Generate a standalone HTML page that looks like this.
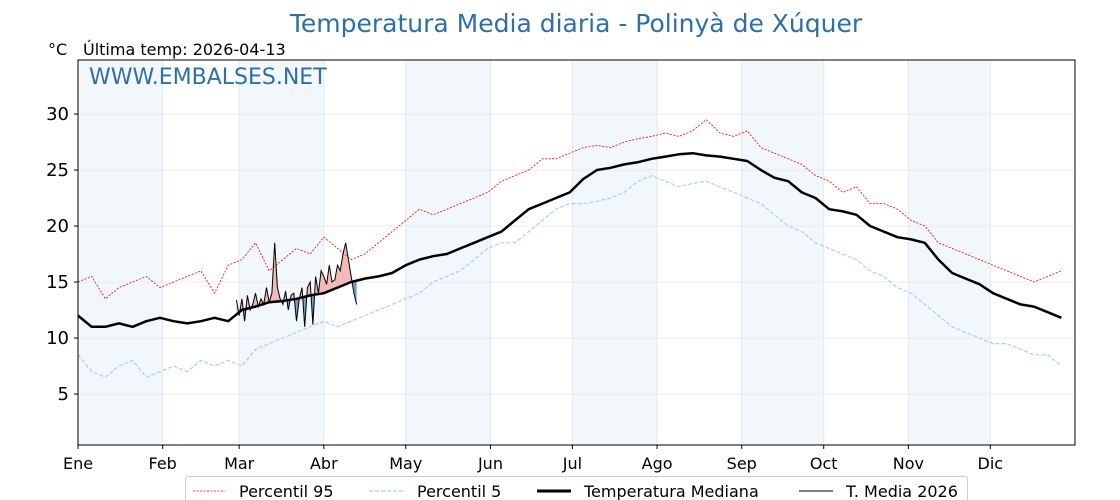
<!DOCTYPE html>
<html><head><meta charset="utf-8">
<style>
html,body{margin:0;padding:0;background:#fff;}
svg{display:block;font-family:"DejaVu Sans","Liberation Sans",sans-serif;}
</style></head>
<body>
<svg id="chart" width="1120" height="500" viewBox="0 0 1120 500">
  <text x="576" y="32" text-anchor="middle" font-size="25" fill="#2e6fa5">Temperatura Media diaria - Polinyà de Xúquer</text>
  <text x="48" y="55" font-size="16" fill="#000">°C</text>
  <text x="83" y="55" font-size="16" fill="#000">Última temp: 2026-04-13</text>
  <g id="bands"></g>
  <g id="grid"></g>
  <g id="fills"></g>
  <g id="lines"></g>
  <rect x="78" y="60" width="997" height="385" fill="none" stroke="#000" stroke-width="1"/>
  <text x="89" y="84" font-size="22" fill="#2e6fa5">WWW.EMBALSES.NET</text>
  <g id="axes"></g>
  <g>
    <rect x="185.5" y="476.5" width="782" height="30" rx="3" fill="#fff" stroke="#ccc"/>
    <line x1="193" y1="491" x2="225" y2="491" stroke="red" stroke-width="0.8" stroke-dasharray="2,1.5"/>
    <text x="239" y="497" font-size="16">Percentil 95</text>
    <line x1="369" y1="491" x2="403" y2="491" stroke="#a8d4e0" stroke-width="1.2" stroke-dasharray="4,2"/>
    <text x="417" y="497" font-size="16">Percentil 5</text>
    <line x1="537" y1="491" x2="571" y2="491" stroke="#000" stroke-width="3"/>
    <text x="584" y="497" font-size="16">Temperatura Mediana</text>
    <line x1="799" y1="491" x2="833" y2="491" stroke="#000" stroke-width="1"/>
    <text x="846" y="497" font-size="16">T. Media 2026</text>
  </g>
</svg>
<script>
const months = ["Ene","Feb","Mar","Abr","May","Jun","Jul","Ago","Sep","Oct","Nov","Dic"];
const monthStartDays = [0,31,59,90,120,151,181,212,243,273,304,334];
const yTicks = [5,10,15,20,25,30];
const stepDays = 5;
const median = [12,11,11,11.3,11,11.5,11.8,11.5,11.3,11.5,11.8,11.5,12.5,12.8,13.2,13.3,13.5,13.8,14,14.5,15,15.3,15.5,15.8,16.5,17,17.3,17.5,18,18.5,19,19.5,20.5,21.5,22,22.5,23,24.2,25,25.2,25.5,25.7,26,26.2,26.4,26.5,26.3,26.2,26,25.8,25,24.3,24,23,22.5,21.5,21.3,21,20,19.5,19,18.8,18.5,17,15.8,15.3,14.8,14,13.5,13,12.8,12.3,11.8];
const p95 = [15,15.5,13.5,14.5,15,15.5,14.5,15,15.5,16,14,16.5,17,18.5,16,17,18,17.5,19,18,17,17.5,18.5,19.5,20.5,21.5,21,21.5,22,22.5,23,24,24.5,25,26,26,26.5,27,27.2,27,27.5,27.8,28,28.3,28,28.5,29.5,28.3,28,28.5,27,26.5,26,25.5,24.5,24,23,23.5,22,22,21.5,20.5,20,18.5,18,17.5,17,16.5,16,15.5,15,15.5,16];
const p5 = [8.5,7,6.5,7.5,8,6.5,7,7.5,7,8,7.5,8,7.5,9,9.5,10,10.5,11,11.5,11,11.5,12,12.5,13,13.5,14,15,15.5,16,17,18,18.5,18.5,19.5,20.5,21.5,22,22,22.2,22.5,23,24,24.5,24,23.5,23.8,24,23.5,23,22.5,22,21,20,19.5,18.5,18,17.5,17,16,15.5,14.5,14,13,12,11,10.5,10,9.5,9.5,9,8.5,8.5,7.5];
const startDay2026 = 58;
const temp2026 = [13.4,12.0,13.5,11.5,13.8,12.5,13.0,14.0,12.8,13.5,13.0,14.5,13.2,14.0,18.5,14.5,13.5,13.0,14.2,12.5,13.8,14.0,11.5,13.5,14.5,11.0,14.5,15.0,11.2,15.5,14.0,16.0,15.5,14.8,16.5,15.0,15.2,16.5,16.0,17.5,18.5,17.0,15.5,14.0,13.0];

const NS="http://www.w3.org/2000/svg";
const X0=78,X1=1075,Y0=60,Y1=445;
const x=d=>X0+d*(X1-X0)/365;
const y=v=>450-v*11.2;
function mk(tag,attrs,parent){const e=document.createElementNS(NS,tag);for(const k in attrs)e.setAttribute(k,attrs[k]);parent.appendChild(e);return e;}
const bands=document.getElementById('bands'),grid=document.getElementById('grid'),fills=document.getElementById('fills'),lines=document.getElementById('lines'),axes=document.getElementById('axes');
monthStartDays.forEach((d,i)=>{
  const end=i<11?monthStartDays[i+1]:365;
  if(i%2===0){const r=mk('rect',{x:x(d),y:Y0,width:x(end)-x(d),height:Y1-Y0,fill:'#f2f7fb'},bands);
    
    }
  const g=mk('line',{x1:x(d),x2:x(d),y1:Y0,y2:Y1,stroke:'#e3e8ee','stroke-width':1},grid);
  
  
  const t=mk('text',{x:x(d),y:469,'font-size':16,'text-anchor':'middle'},axes);
  t.textContent=months[i];
  
  
  const tk=mk('line',{x1:x(d),x2:x(d),y1:Y1,y2:Y1+4,stroke:'#000'},axes);
  
  
});
yTicks.forEach(v=>{
  const g=mk('line',{x1:X0,x2:X1,y1:y(v),y2:y(v),stroke:'#ebebeb','stroke-width':1},grid);
  
  
  const t=mk('text',{x:69,y:y(v)+6,'font-size':18,'text-anchor':'end'},axes);
  t.textContent=v;
  
  
  const tk=mk('line',{x1:X0-4,x2:X0,y1:y(v),y2:y(v),stroke:'#000'},axes);
  
  
});
function medAt(d){const i=Math.min(Math.floor(d/stepDays),median.length-2);const f=(d-i*stepDays)/stepDays;return median[i]+(median[i+1]-median[i])*f;}
for(let i=0;i<temp2026.length-1;i++){
  const d0=startDay2026+i,d1=d0+1,a0=temp2026[i],a1=temp2026[i+1],m0=medAt(d0),m1=medAt(d1);
  const s0=a0-m0,s1=a1-m1;
  const seg=(da,aa,ma,db,ab,mb,pos)=>{const p=mk('polygon',{points:`${x(da)},${y(aa)} ${x(db)},${y(ab)} ${x(db)},${y(mb)} ${x(da)},${y(ma)}`,fill:pos?'#f2b8b8':'#6f9bc4'},fills);
    
    };
  if(s0*s1>=0){seg(d0,a0,m0,d1,a1,m1,(s0+s1)>0);}
  else{const t=s0/(s0-s1),dc=d0+t,vc=a0+(a1-a0)*t;seg(d0,a0,m0,dc,vc,vc,s0>0);seg(dc,vc,vc,d1,a1,m1,s1>0);}
}
function path(arr,start,step,attrs,name){
  const d=arr.map((v,i)=>(i?'L':'M')+x(start+i*step).toFixed(1)+','+y(v).toFixed(1)).join(' ');
  const p=mk('path',Object.assign({d:d,fill:'none'},attrs),lines);
  
  
}
path(p95,0,stepDays,{stroke:'red','stroke-width':0.8,'stroke-dasharray':'2,1.5'},'p95-line');
path(p5,0,stepDays,{stroke:'#a8d4e0','stroke-width':1.2,'stroke-dasharray':'4,2'},'p5-line');
path(median,0,stepDays,{stroke:'#000','stroke-width':2.5,'stroke-linejoin':'round'},'median-line');
path(temp2026,startDay2026,1,{stroke:'#000','stroke-width':1},'temp-2026-line');
</script>
</body></html>
